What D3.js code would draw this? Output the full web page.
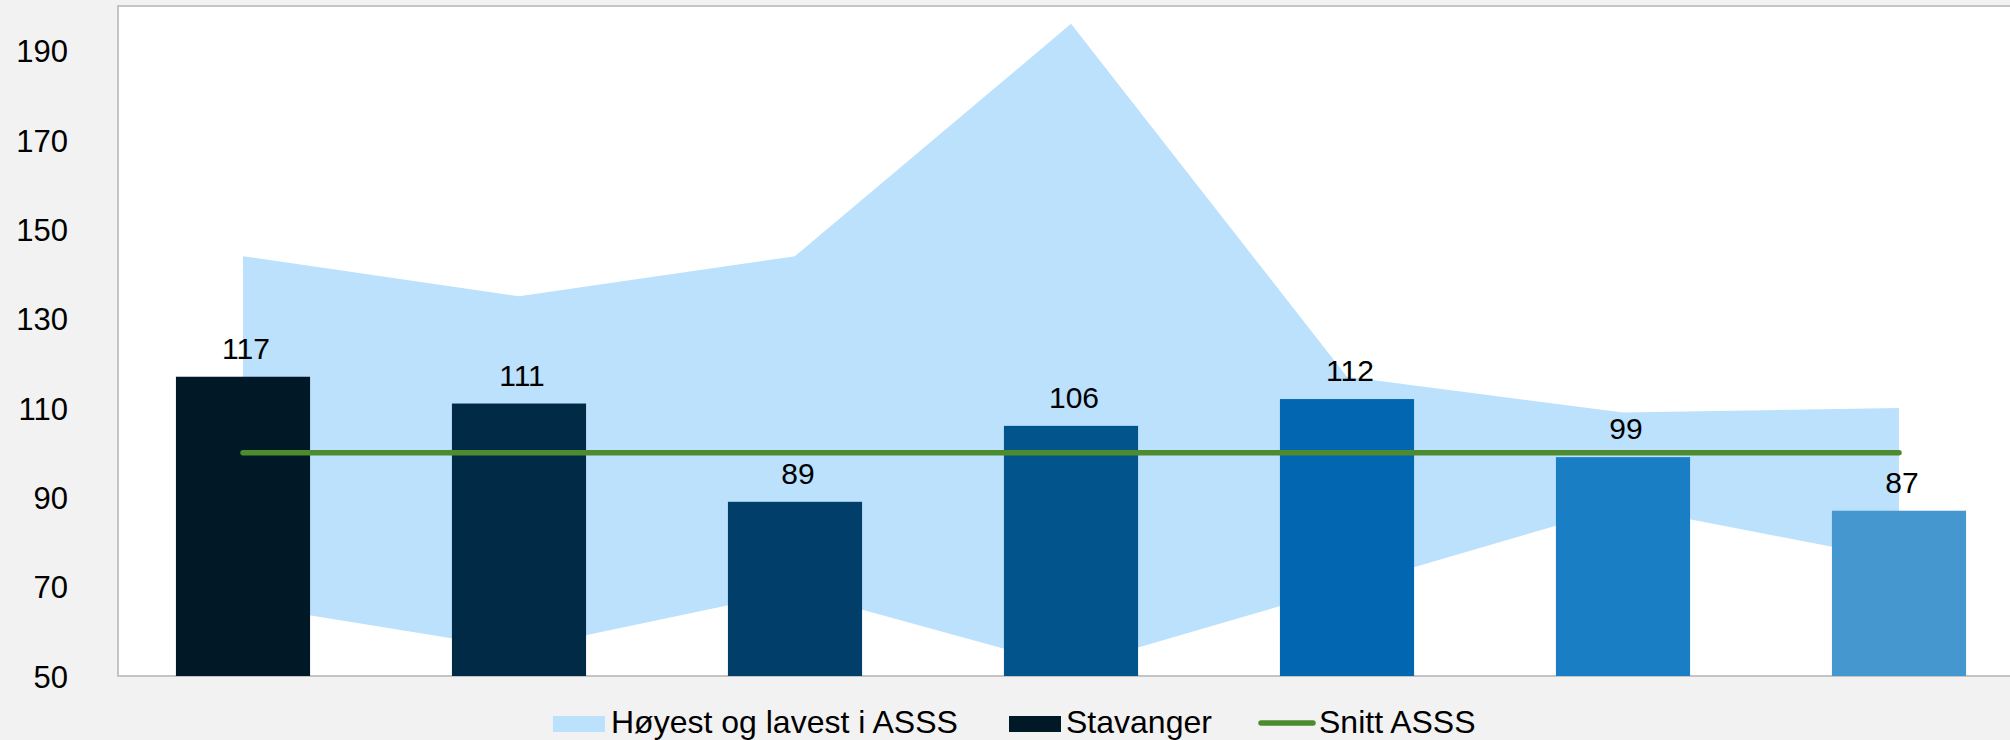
<!DOCTYPE html>
<html>
<head>
<meta charset="utf-8">
<script src="https://cdn.jsdelivr.net/npm/d3@7"></script>
<style>
    html, body { margin: 0; padding: 0; background: #f2f2f2; }
    svg { display: block; font-family: "Liberation Sans", Arial, sans-serif; }
</style>
</head>
<body>
<svg width="2010" height="740"></svg>
<script>
const categories = ["A", "B", "C", "D", "E", "F", "G"];
const stavanger = [117, 111, 89, 106, 112, 99, 87];
const hoyest = [144, 135, 144, 196, 117, 109, 110];
const lavest = [66, 56, 69, 52, 70, 88, 76];
const snitt = [100, 100, 100, 100, 100, 100, 100];
const yTicks = [50, 70, 90, 110, 130, 150, 170, 190];

const barColors = ["#011827", "#012a47", "#023e6a", "#02548c", "#0366b0", "#1a7ec5", "#4597d0"];
const areaColor = "#bbe1fc";
const lineColor = "#4d8b2e";

const svg = d3.select("svg");

const x = d3.scaleBand()
            .domain(categories)
            .range([105, 2037])
            .paddingInner(0.514)
            .paddingOuter(0.257);

const y = d3.scaleLinear()
            .domain([50, 200])
            .range([676, 6]);

const cx = c => x(c) + x.bandwidth() / 2;

// plot area
svg.append("rect")
    .attr("x", 118)
    .attr("y", 6)
    .attr("width", 1910)
    .attr("height", 670)
    .style("fill", "#ffffff")
    .style("stroke", "#c4c4c4")
    .style("stroke-width", 2);

// min/max band
const area = d3.area()
                .x((d, i) => cx(categories[i]))
                .y0((d, i) => y(lavest[i]))
                .y1(d => y(d));

svg.append("path")
    .datum(hoyest)
    .attr("d", area)
    .style("fill", areaColor);

// bars
svg.append("g")
    .selectAll("rect")
    .data(stavanger)
    .enter()
    .append("rect")
    .attr("x", (d, i) => x(categories[i]))
    .attr("y", d => y(d))
    .attr("width", x.bandwidth())
    .attr("height", d => y(50) - y(d))
    .style("fill", (d, i) => barColors[i]);

// average line
const line = d3.line()
                .x((d, i) => cx(categories[i]))
                .y(d => y(d));

svg.append("path")
    .datum(snitt)
    .attr("d", line)
    .style("fill", "none")
    .style("stroke", lineColor)
    .style("stroke-width", 5.5)
    .style("stroke-linecap", "round");

// value labels
svg.append("g")
    .selectAll("text")
    .data(stavanger)
    .enter()
    .append("text")
    .attr("x", (d, i) => cx(categories[i]) + 3)
    .attr("y", d => y(d) - 18)
    .attr("text-anchor", "middle")
    .style("font-size", "30px")
    .style("fill", "#000")
    .text(d => d);

// y axis
const yAxis = d3.axisLeft(y)
                .tickValues(yTicks)
                .tickSize(0)
                .tickPadding(0);

const gy = svg.append("g")
                .attr("transform", "translate(68,0)")
                .call(yAxis);

gy.select(".domain").remove();
gy.selectAll("text")
    .attr("dy", "0.36em")
    .style("font-size", "31px")
    .style("font-family", "\"Liberation Sans\", Arial, sans-serif")
    .style("fill", "#000");

// legend
const legend = svg.append("g").style("font-size", "32px");

legend.append("rect")
    .attr("x", 553).attr("y", 716)
    .attr("width", 52).attr("height", 16)
    .style("fill", areaColor);
legend.append("text")
    .attr("x", 611).attr("y", 733)
    .text("Høyest og lavest i ASSS");

legend.append("rect")
    .attr("x", 1009).attr("y", 716)
    .attr("width", 52).attr("height", 16)
    .style("fill", barColors[0]);
legend.append("text")
    .attr("x", 1066).attr("y", 733)
    .text("Stavanger");

legend.append("line")
    .attr("x1", 1261).attr("x2", 1313)
    .attr("y1", 723).attr("y2", 723)
    .style("stroke", lineColor)
    .style("stroke-width", 5.5)
    .style("stroke-linecap", "round");
legend.append("text")
    .attr("x", 1319).attr("y", 733)
    .text("Snitt ASSS");
</script>
</body>
</html>
